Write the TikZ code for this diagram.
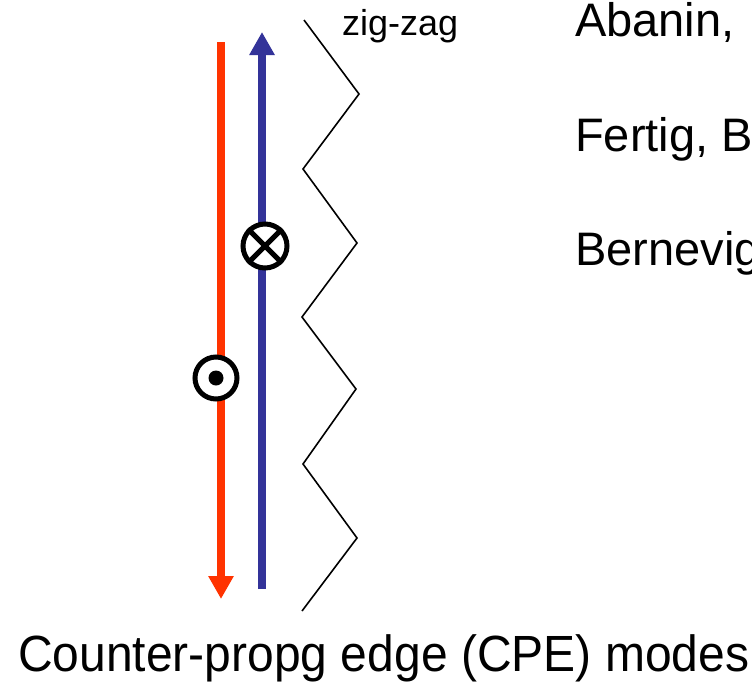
\documentclass[tikz,border=0pt]{standalone}
\usepackage{fontspec}
\setmainfont{Liberation Sans}
\usetikzlibrary{arrows.meta}
\definecolor{edgered}{HTML}{FF3300}
\definecolor{edgeblue}{HTML}{333399}
\begin{document}
\begin{tikzpicture}[x=1pt,y=-1pt,
  edgeline/.style={line width=8pt,-{Triangle[width=24pt,length=23pt]}},
  ring/.style={circle,draw=black,fill=white,line width=5pt,inner sep=0pt},
  label/.style={anchor=base west,inner sep=0pt,font=\fontsize{47}{50}\selectfont},
  zz/.style={line width=1.6pt,line join=miter}]
\useasboundingbox (0,0) rectangle (752,683);
\clip (0,0) rectangle (752,683);
% counter-propagating edge modes
\coordinate (rtop) at (221,42);
\coordinate (rbot) at (221,599);
\coordinate (bbot) at (262,589);
\coordinate (btop) at (262,32);
\draw[edgeline,edgered] (rtop) -- (rbot);
\draw[edgeline,edgeblue] (bbot) -- (btop);
% out-of-plane symbols
\node[ring,minimum size=44pt] (cross) at (265,246) {};
\draw[line width=5pt] (cross.north west) -- (cross.south east)
                      (cross.north east) -- (cross.south west);
\node[ring,minimum size=42pt] (dot) at (216,378) {};
\node[circle,fill=black,inner sep=0pt,minimum size=15pt] (dotc) at (dot.center) {};
% zig-zag edge
\draw[zz] (304,20) -- (359,94) -- (303,169) -- (357,243) -- (302,317)
  -- (356,389) -- (303,464) -- (357,538) -- (302,611);
\node[anchor=base west,inner sep=0pt,font=\fontsize{36}{40}\selectfont] (zzl) at (342,35) {zig-zag};
% references
\node[label] (r1) at (575,36) {Abanin,};
\node[label] (r2) at (575,151) {Fertig, B};
\node[label] (r3) at (575,265) {Bernevig};
% caption
\node[label,font=\fontsize{48}{50}\selectfont,yscale=1.06] (cap) at (18,671) {Counter-propg edge (CPE) modes};
\end{tikzpicture}
\end{document}
